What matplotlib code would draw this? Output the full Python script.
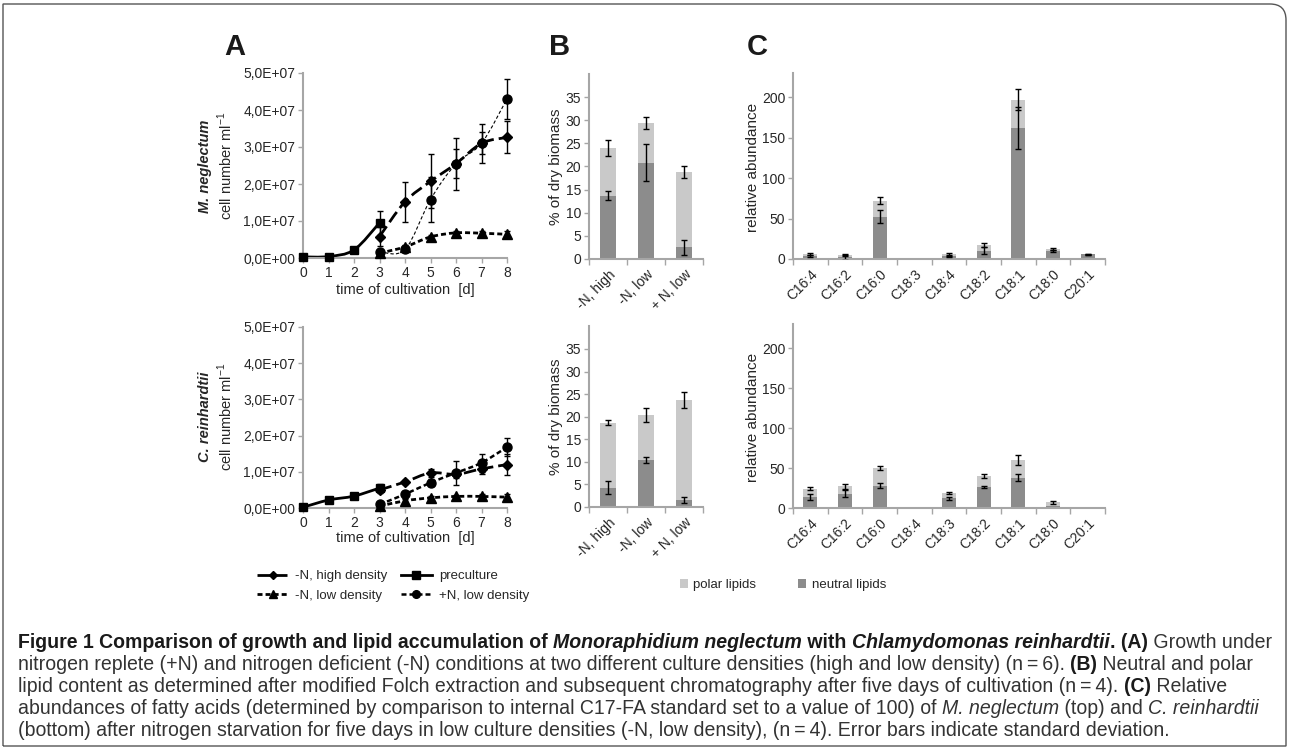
import numpy as np
import matplotlib
matplotlib.use("Agg")
import matplotlib.pyplot as plt
from matplotlib.path import Path
from matplotlib.patches import PathPatch, Patch
from matplotlib.lines import Line2D
from matplotlib.ticker import FuncFormatter

plt.rcParams['font.family'] = ['Liberation Sans', 'DejaVu Sans']
plt.rcParams['mathtext.fontset'] = 'custom'
plt.rcParams['mathtext.rm'] = 'Liberation Sans'

W, H = 1290, 750

# ---- panel A: growth, cell numbers in units of 1E+07 cells/ml ----
pre_days = [0, 1, 2, 3]
exp_days = [3, 4, 5, 6, 7, 8]

mn_pre = [0.03, 0.04, 0.22, 0.95]
mn_pre_err = [0, 0, 0, 0.33]
mn_high = [0.58, 1.52, 2.07, 2.55, 3.10, 3.26]
mn_high_err = [0.25, 0.54, 0.73, 0.40, 0.53, 0.43]
mn_low = [0.13, 0.30, 0.57, 0.68, 0.67, 0.64]
mn_low_err = [0.03, 0.05, 0.05, 0.05, 0.05, 0.10]
mn_plus = [0.17, 0.23, 1.58, 2.55, 3.10, 4.30]
mn_plus_err = [0.05, 0.08, 0.60, 0.70, 0.30, 0.55]

cr_pre = [0.02, 0.22, 0.33, 0.55]
cr_pre_err = [0, 0.03, 0.03, 0.10]
cr_high = [0.50, 0.72, 0.97, 0.93, 1.08, 1.20]
cr_high_err = [0.08, 0.05, 0.10, 0.10, 0.15, 0.30]
cr_low = [0.05, 0.20, 0.28, 0.32, 0.32, 0.30]
cr_low_err = [0.03, 0.05, 0.05, 0.05, 0.08, 0.08]
cr_plus = [0.10, 0.38, 0.70, 0.97, 1.25, 1.68]
cr_plus_err = [0.05, 0.10, 0.10, 0.33, 0.25, 0.25]

# ---- panel B: lipid content, % of dry biomass ----
b_cats = ['-N, high', '-N, low', '+ N, low']
mn_b_neutral = [13.7, 20.8, 2.5]
mn_b_polar = [10.3, 8.6, 16.3]
mn_b_neutral_err = [1.0, 4.0, 1.6]
mn_b_total_err = [1.7, 1.2, 1.2]
cr_b_neutral = [4.3, 10.4, 1.5]
cr_b_polar = [14.4, 10.0, 22.2]
cr_b_neutral_err = [1.4, 0.7, 0.7]
cr_b_total_err = [0.6, 1.6, 1.7]

# ---- panel C: fatty acids, relative abundance ----
mn_fa = ['C16:4', 'C16:2', 'C16:0', 'C18:3', 'C18:4', 'C18:2', 'C18:1', 'C18:0', 'C20:1']
mn_c_neutral = [4.0, 2.0, 52.5, 0, 3.3, 10.5, 162.5, 10.0, 5.8]
mn_c_polar = [2.5, 3.0, 19.5, 0, 3.2, 7.0, 34.5, 2.8, 0.2]
mn_c_neutral_err = [1.0, 3.0, 8.5, 0, 1.0, 4.0, 26.0, 1.5, 0.5]
mn_c_total_err = [1.0, 1.0, 4.5, 0, 1.5, 2.5, 13.0, 1.2, 0.5]
cr_fa = ['C16:4', 'C16:2', 'C16:0', 'C18:4', 'C18:3', 'C18:2', 'C18:1', 'C18:0', 'C20:1']
cr_c_neutral = [14.0, 18.0, 28.0, 0, 12.0, 26.0, 38.0, 3.0, 0]
cr_c_polar = [10.0, 9.0, 22.0, 0, 7.0, 14.0, 22.0, 4.0, 0]
cr_c_neutral_err = [4.0, 4.0, 3.0, 0, 2.0, 1.5, 4.0, 0, 0]
cr_c_total_err = [2.0, 3.0, 3.0, 0, 1.5, 3.0, 6.5, 2.0, 0]

DARK = '#8c8c8c'
LIGHT = '#c9c9c9'
SPINE = '#a6a6a6'
TXT = '#262626'


def fx(x):
    return x / W


def fy(y):
    return 1 - y / H


def smooth_path(x, y):
    # Excel-like smoothed line: cubic bezier through the points
    pts = np.column_stack([x, y]).astype(float)
    n = len(pts)
    verts = [pts[0]]
    codes = [Path.MOVETO]
    for i in range(n - 1):
        p0 = pts[i - 1] if i > 0 else pts[i]
        p1, p2 = pts[i], pts[i + 1]
        p3 = pts[i + 2] if i + 2 < n else pts[i + 1]
        verts += [p1 + (p2 - p0) / 6, p2 - (p3 - p1) / 6, p2]
        codes += [Path.CURVE4] * 3
    return Path(verts, codes)


def sci_fmt(v, pos):
    if v <= 0:
        return '0,0E+00'
    e = int(np.floor(np.log10(v) + 1e-9))
    return f"{v / 10 ** e:.1f}".replace('.', ',') + f"E+{e:02d}"


def style_axes(ax):
    for s in ['top', 'right']:
        ax.spines[s].set_visible(False)
    for s in ['left', 'bottom']:
        ax.spines[s].set_color(SPINE)
        ax.spines[s].set_linewidth(1.5)
    ax.tick_params(which='both', color=SPINE, width=1, length=3.5,
                   labelsize=10, labelcolor=TXT, pad=2)
    ax.patch.set_alpha(0)


STYLES = {
    'pre': dict(marker='s', ms=6, lw=2.0, ls='-'),
    'high': dict(marker='D', ms=5, lw=2.0, ls=(0, (4.5, 1.8))),
    'low': dict(marker='^', ms=6.5, lw=2.0, ls=(0, (1.8, 1.1))),
    'plus': dict(marker='o', ms=6.5, lw=1.8, ls=(0, (2.0, 1.2))),
}


def growth_panel(ax, pre, pre_err, high, high_err, low, low_err, plus, plus_err, plus_lw):
    series = [
        (pre_days, pre, pre_err, 'pre', None),
        (exp_days, low, low_err, 'low', None),
        (exp_days, plus, plus_err, 'plus', plus_lw),
        (exp_days, high, high_err, 'high', None),
    ]
    for xs, ys, es, key, lw in series:
        st = STYLES[key]
        ys = np.array(ys) * 1e7
        es = np.array(es) * 1e7
        ls = st['ls']
        if lw is not None and lw < 1.5:
            ls = (0, (3, 2))
        patch = PathPatch(smooth_path(xs, ys), fill=False, edgecolor='k',
                          lw=lw if lw is not None else st['lw'], ls=ls,
                          clip_on=False, capstyle='butt')
        ax.add_patch(patch)
        m = es > 0
        ax.errorbar(np.array(xs)[m], ys[m], yerr=es[m], fmt='none', ecolor='k',
                    elinewidth=1, capsize=2, capthick=1, clip_on=False)
        ax.plot(xs, ys, linestyle='none', marker=st['marker'], ms=st['ms'],
                color='k', clip_on=False, zorder=5)
    ax.set_xlim(0, 8)
    ax.set_ylim(0, 5e7)
    ax.set_xticks(range(9))
    ax.set_yticks(np.arange(0, 5.01e7, 1e7))
    ax.yaxis.set_major_formatter(FuncFormatter(sci_fmt))
    style_axes(ax)


def bar_panel(ax, cats, neutral, polar, n_err, t_err, ymax, ystep, ytop):
    x = np.arange(len(cats))
    neutral = np.array(neutral)
    polar = np.array(polar)
    total = neutral + polar
    ax.bar(x, neutral, 0.4, color=DARK, zorder=2)
    ax.bar(x, polar, 0.4, bottom=neutral, color=LIGHT, zorder=2)
    n_err = np.array(n_err)
    t_err = np.array(t_err)
    m = n_err > 0
    ax.errorbar(x[m], neutral[m], yerr=n_err[m], fmt='none', ecolor='k',
                elinewidth=1, capsize=2, capthick=1, zorder=4)
    m = t_err > 0
    ax.errorbar(x[m], total[m], yerr=t_err[m], fmt='none', ecolor='k',
                elinewidth=1, capsize=2, capthick=1, zorder=4)
    ax.set_xlim(-0.5, len(cats) - 0.5)
    ax.set_ylim(0, ytop)
    ax.set_yticks(np.arange(0, ymax + 0.1, ystep))
    style_axes(ax)
    ax.set_xticks(x)
    ax.set_xticklabels(cats, rotation=45, ha='right', va='top',
                       rotation_mode='anchor', fontsize=10)
    ax.set_xticks(np.arange(len(cats) + 1) - 0.5, minor=True)
    ax.tick_params(axis='x', which='major', length=0, pad=6)
    ax.tick_params(axis='x', which='minor', length=4)


fig = plt.figure(figsize=(W / 100, H / 100), dpi=100)

axA1 = fig.add_axes([fx(303), fy(258), fx(204), 185 / H])
axA2 = fig.add_axes([fx(303), fy(508), fx(204), 181 / H])
axB1 = fig.add_axes([fx(589), fy(259), fx(114), 185 / H])
axB2 = fig.add_axes([fx(589), fy(507), fx(114), 180.6 / H])
axC1 = fig.add_axes([fx(793), fy(259), fx(312), 186 / H])
axC2 = fig.add_axes([fx(793), fy(508), fx(312), 184 / H])

growth_panel(axA1, mn_pre, mn_pre_err, mn_high, mn_high_err, mn_low, mn_low_err,
             mn_plus, mn_plus_err, 0.8)
growth_panel(axA2, cr_pre, cr_pre_err, cr_high, cr_high_err, cr_low, cr_low_err,
             cr_plus, cr_plus_err, None)

bar_panel(axB1, b_cats, mn_b_neutral, mn_b_polar, mn_b_neutral_err, mn_b_total_err, 35, 5, 40)
bar_panel(axB2, b_cats, cr_b_neutral, cr_b_polar, cr_b_neutral_err, cr_b_total_err, 35, 5, 40)
bar_panel(axC1, mn_fa, mn_c_neutral, mn_c_polar, mn_c_neutral_err, mn_c_total_err, 200, 50, 230)
bar_panel(axC2, cr_fa, cr_c_neutral, cr_c_polar, cr_c_neutral_err, cr_c_total_err, 200, 50, 230)

# panel letters
for letter, x in [('A', 235), ('B', 560), ('C', 757)]:
    fig.text(fx(x), fy(47), letter, fontsize=21, fontweight='bold',
             ha='center', va='center', color='#1a1a1a')

# axis labels
for yc, species in [(166, 'M. neglectum'), (417, 'C. reinhardtii')]:
    fig.text(fx(205), fy(yc), species, rotation=90, fontsize=10.5,
             fontweight='bold', style='italic', ha='center', va='center', color=TXT)
    fig.text(fx(225), fy(yc), r'cell number ml$^{\mathregular{-1}}$', rotation=90,
             fontsize=10.5, ha='center', va='center', color=TXT)
for yl in [290, 538]:
    fig.text(fx(405), fy(yl), 'time of cultivation  [d]', fontsize=10.5,
             ha='center', va='center', color=TXT)
for yc in [167, 417]:
    fig.text(fx(556), fy(yc), '% of dry biomass', rotation=90, fontsize=11,
             ha='center', va='center', color=TXT)
    fig.text(fx(753), fy(yc), 'relative abundance', rotation=90, fontsize=11,
             ha='center', va='center', color=TXT)

# growth legend
def handle(key, lw=None):
    st = STYLES[key]
    return Line2D([], [], color='k', lw=st['lw'] if lw is None else lw, ls=st['ls'],
                  marker=st['marker'], ms=st['ms'] * 0.85)

handles = [handle('high'), handle('low'), handle('pre'), handle('plus')]
labels = ['-N, high density', '-N, low density', 'preculture', '+N, low density']
fig.legend(handles, labels, ncol=2, loc='center', bbox_to_anchor=(fx(393), fy(586)),
           frameon=False, fontsize=9.5, handlelength=2.4, handletextpad=0.5,
           columnspacing=1.0, labelspacing=0.55, labelcolor=TXT)

# lipid legend
lip_handles = [Patch(facecolor=LIGHT), Patch(facecolor=DARK)]
fig.legend(lip_handles, ['polar lipids', 'neutral lipids'], ncol=2, loc='center',
           bbox_to_anchor=(fx(783), fy(585)), frameon=False, fontsize=9.5,
           handlelength=0.6, handleheight=0.6, handletextpad=0.4,
           columnspacing=3.2, labelcolor=TXT)

# border with rounded top-right corner
r = 16
bx0, by0, bx1, by1 = 3, 4, 1286, 746
verts = [(bx0, by1), (bx0, by0), (bx1 - r, by0), (bx1, by0), (bx1, by0 + r), (bx1, by1), (bx0, by1)]
codes = [Path.MOVETO, Path.LINETO, Path.LINETO, Path.CURVE3, Path.CURVE3, Path.LINETO, Path.LINETO]
border = Path([(fx(a), fy(b)) for a, b in verts], codes)
fig.add_artist(PathPatch(border, fill=False, edgecolor='#555555', lw=1,
                         transform=fig.transFigure))

# caption (mixed styles per line)
caption = [
    [("Figure 1 Comparison of growth and lipid accumulation of ", 'bold', 'normal'),
     ("Monoraphidium neglectum", 'bold', 'italic'),
     (" with ", 'bold', 'normal'),
     ("Chlamydomonas reinhardtii", 'bold', 'italic'),
     (". (A)", 'bold', 'normal'),
     (" Growth under", 'normal', 'normal')],
    [("nitrogen replete (+N) and nitrogen deficient (-N) conditions at two different culture densities (high and low density) (n\u2009=\u20096). ", 'normal', 'normal'),
     ("(B)", 'bold', 'normal'),
     (" Neutral and polar", 'normal', 'normal')],
    [("lipid content as determined after modified Folch extraction and subsequent chromatography after five days of cultivation (n\u2009=\u20094). ", 'normal', 'normal'),
     ("(C)", 'bold', 'normal'),
     (" Relative", 'normal', 'normal')],
    [("abundances of fatty acids (determined by comparison to internal C17-FA standard set to a value of 100) of ", 'normal', 'normal'),
     ("M. neglectum", 'normal', 'italic'),
     (" (top) and ", 'normal', 'normal'),
     ("C. reinhardtii", 'normal', 'italic')],
    [("(bottom) after nitrogen starvation for five days in low culture densities (-N, low density), (n\u2009=\u20094). Error bars indicate standard deviation.", 'normal', 'normal')],
]
cap_y = [643, 665, 687, 708, 730]

renderer = fig.canvas.get_renderer()


def seg_width(text, size, weight, style):
    kw = dict(fontsize=size, fontweight=weight, style=style)
    t1 = fig.text(0, 0, '|' + text + '|', **kw)
    t2 = fig.text(0, 0, '||', **kw)
    w = t1.get_window_extent(renderer).width - t2.get_window_extent(renderer).width
    t1.remove()
    t2.remove()
    return w

base = 10
w1 = sum(seg_width(t, base, wt, st) for t, wt, st in caption[0])
cap_size = base * 1257 / w1

for line, yl in zip(caption, cap_y):
    x = 18
    for text, wt, st in line:
        col = '#1a1a1a' if wt == 'bold' else '#333333'
        fig.text(fx(x), fy(yl), text, fontsize=cap_size, fontweight=wt, style=st,
                 ha='left', va='center', color=col)
        x += seg_width(text, cap_size, wt, st)

fig.savefig('out.png', dpi=100)
